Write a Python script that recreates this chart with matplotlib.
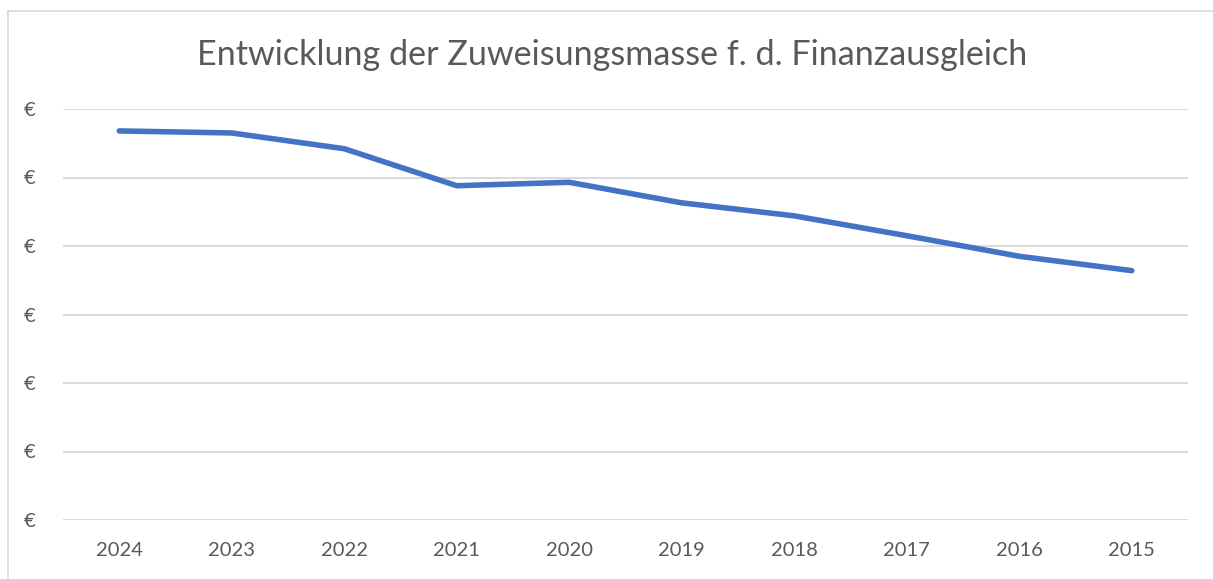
"""
Line chart: Entwicklung der Zuweisungsmasse f. d. Finanzausgleich (Excel style).
"""
import matplotlib
matplotlib.use("Agg")
import matplotlib.pyplot as plt
from matplotlib.lines import Line2D
from matplotlib.ticker import FixedLocator, FixedFormatter

# data (values in arbitrary units; axis labels show only the currency sign)
years = ["2024", "2023", "2022", "2021", "2020", "2019", "2018", "2017", "2016", "2015"]
values = [5.68, 5.65, 5.42, 4.88, 4.93, 4.63, 4.44, 4.15, 3.85, 3.64]
y_ticks = [0, 1, 2, 3, 4, 5, 6]
y_tick_labels = ["€"] * len(y_ticks)
title = "Entwicklung der Zuweisungsmasse f. d. Finanzausgleich"

W, H = 1213, 579
plt.rcParams["font.family"] = ["Lato", "DejaVu Sans"]

fig = plt.figure(figsize=(W / 100, H / 100), dpi=100)
ax = fig.add_axes([63 / W, 1 - 520 / H, (1188 - 63) / W, (520 - 109) / H])

x = list(range(len(years)))
ax.plot(x, values, color="#4472C4", lw=4.0, solid_capstyle="round",
        solid_joinstyle="round", zorder=3)

ax.set_xlim(-0.5, len(years) - 0.5)
ax.set_ylim(y_ticks[0], y_ticks[-1])
ax.set_xticks(x)
ax.set_xticklabels(years)
ax.yaxis.set_major_locator(FixedLocator(y_ticks))
ax.yaxis.set_major_formatter(FixedFormatter(y_tick_labels))
ax.grid(axis="y", color="#D9D9D9", lw=1.4, zorder=0)
ax.tick_params(axis="both", length=0, labelsize=14.5, labelcolor="#595959")
ax.tick_params(axis="x", pad=16)
ax.tick_params(axis="y", pad=20)
for s in ax.spines.values():
    s.set_visible(False)

fig.text(612 / W, 1 - 55 / H, title, ha="center", va="center",
         fontsize=24.6, color="#595959")

# chart-area border (left and top only are visible in the crop)
fig.add_artist(Line2D([7.5 / W, 7.5 / W], [0, 1 - 11 / H],
                      transform=fig.transFigure, color="#D9D9D9", lw=1.2))
fig.add_artist(Line2D([7.5 / W, 1], [1 - 11 / H, 1 - 11 / H],
                      transform=fig.transFigure, color="#D9D9D9", lw=1.2))

fig.savefig("out.png", dpi=100)
plt.close(fig)
